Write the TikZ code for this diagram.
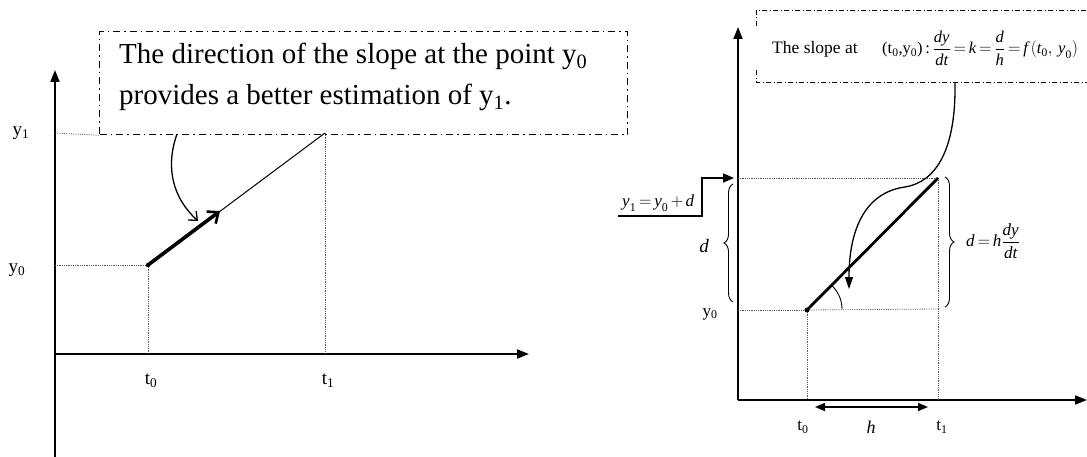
\documentclass[tikz,border=0pt]{standalone}
\usepackage{amsmath}
\usepackage{fontspec}
\setmainfont{Liberation Serif}
\usetikzlibrary{arrows.meta,decorations.pathreplacing,calc}
\newcommand{\ii}[1]{\textit{#1}}
\thickmuskip=3mu
\medmuskip=2.5mu
\begin{document}
\begin{tikzpicture}[x=1pt,y=-1pt,
  axis/.style={line width=1.8pt,-{Triangle[length=12pt,width=9pt]}},
  guide/.style={densely dotted,line width=0.8pt,black!65},
  callout/.style={draw,line width=1.3pt,dash pattern=on 7pt off 4pt on 1.5pt off 4pt,inner sep=0pt},
  calloutR/.style={line width=0.9pt,dash pattern=on 5pt off 2.5pt on 1pt off 2.5pt},
  lblL/.style={inner sep=0pt,font=\fontsize{19}{22}\selectfont},
  lblR/.style={inner sep=0pt,font=\fontsize{17}{20}\selectfont},
  bigtext/.style={inner sep=0pt,anchor=base west,font=\fontsize{29}{34}\selectfont},
  brc/.style={decorate,decoration={brace,amplitude=9pt},line width=0.9pt},
  curvearrow/.style={line width=1.3pt},
]
\useasboundingbox (0,0) rectangle (1087,457);

% ---------------- left diagram ----------------
\coordinate (OL) at (55,354);
\coordinate (YLtop) at (55,70);
\coordinate (YLbot) at (55,457);
\coordinate (XLend) at (529,354);
\coordinate (P0) at (148,265);
\coordinate (P1) at (325,133);
\coordinate (Q) at (220,211);
\coordinate (Y1L) at (55,133);
\coordinate (Y0L) at (55,265);
\coordinate (T0L) at (148,354);
\coordinate (T1L) at (325,354);

\node[callout,anchor=north west,minimum width=528pt,minimum height=103pt] (boxL) at (99,31) {};
\node[bigtext] (txtA) at (119,64) {The direction of the slope at the point y\textsubscript{0}};
\node[bigtext] (txtB) at (119,105) {provides a better estimation of y\textsubscript{1}.};

\draw[axis] (YLbot) -- (YLtop);
\draw[axis] (OL) -- (XLend);
\draw[guide] (Y1L) -- (boxL.south west);
\draw[guide] (Y0L) -- (P0);
\draw[guide] (P0) -- (T0L);
\draw[guide] (P1) -- (T1L);
\draw[line width=1pt] (P0) -- (P1);
\draw[line width=3.6pt,-{Straight Barb[length=9pt,width=15pt,line width=2.6pt]}] (P0) -- (Q);
\fill (P0) circle (2.2pt);
\coordinate (cL) at (177,134);
\coordinate (cLend) at (198,221);
\draw[curvearrow,-{Straight Barb[length=7pt,width=12pt,line width=1.3pt]}] (cL) .. controls (165,168) and (173,198) .. (cLend);

\node[lblL] (y1L) at (21,133) {y\textsubscript{1}};
\node[lblL] (y0L) at (17,270) {y\textsubscript{0}};
\node[lblL] (t0L) at (151,381) {t\textsubscript{0}};
\node[lblL] (t1L) at (328,381) {t\textsubscript{1}};

% ---------------- right diagram ----------------
\coordinate (OR) at (738,400);
\coordinate (YRtop) at (738,27);
\coordinate (XRend) at (1087,400);
\coordinate (R0) at (807,310);
\coordinate (R1) at (938,178);
\coordinate (Y1R) at (738,178);
\coordinate (Y0R) at (738,310);
\coordinate (T0R) at (807,400);
\coordinate (T1R) at (938,400);
\coordinate (B1R) at (938,309);

\node[inner sep=0pt,anchor=north west,minimum width=345pt,minimum height=72pt] (boxR) at (756,10) {};
\draw[calloutR] ([yshift=-16pt]boxR.north west) -- (boxR.north west) -- (boxR.north east);
\draw[calloutR] ([yshift=12pt]boxR.south west) -- (boxR.south west) -- (boxR.south east);
\node[inner sep=0pt,anchor=base west,font=\fontsize{17.5}{21}\selectfont] (slopetxt) at (772,54) {The slope at};
\node[inner sep=0pt,anchor=base west,font=\fontsize{16.5}{21}\selectfont] (slopeeq) at (882,54)
  {(t\textsubscript{0},y\textsubscript{0})\,:\,$\displaystyle\frac{\ii{dy}}{\ii{dt}}=\ii{k}=\frac{\ii{d}}{\ii{h}}=\ii{f}\,(\ii{t}_{\mathrm{0}},\,\ii{y}_{\mathrm{0}})$};

\draw[axis] (OR) -- (YRtop);
\draw[axis] (OR) -- (XRend);
\draw[guide] (Y1R) -- (R1);
\draw[guide] (Y0R) -- (R0);
\draw[guide] (R0) -- (B1R);
\draw[guide] (R0) -- (T0R);
\draw[guide] (R1) -- (T1R);
\draw[line width=2.8pt] (R0) -- (R1);
\fill (R0) circle (2.5pt);
\draw[line width=0.9pt] (842,309) .. controls (842,300) and (838.3,291.9) .. (831.7,285.3);

\coordinate (cR) at (955,83);
\coordinate (cRend) at (849,289);
\draw[curvearrow,-{Triangle[length=12pt,width=8pt]}] (cR) .. controls (956,150) and (936,182) .. (905,187)
  .. controls (868,192) and (849,225) .. (cRend);

\draw[brc] (733,302) -- (733,184);
\draw[brc] (945,177) -- (945,307);
\node[lblR,font=\fontsize{19}{22}\selectfont\itshape] (dL) at (704,246) {d};
\node[lblR,anchor=west,font=\fontsize{17}{21}\selectfont] (dR) at (966,241) {$\ii{d}=\ii{h}\displaystyle\frac{\ii{dy}}{\ii{dt}}$};

\node[lblR,anchor=base west,font=\fontsize{17}{21}\selectfont] (y1eq) at (622,207) {$\ii{y}_{\mathrm{1}}=\ii{y}_{\mathrm{0}}+\ii{d}$};
\coordinate (u0) at (618,216);
\coordinate (u1) at (702,216);
\draw[line width=1.5pt,-{Triangle[length=11pt,width=9pt]}] (u0) -- (u1) |- ([xshift=-4pt]Y1R);

\node[lblR] (y0R) at (710,314) {y\textsubscript{0}};
\node[lblR] (t0R) at (803,427) {t\textsubscript{0}};
\node[lblR] (t1R) at (942,427) {t\textsubscript{1}};
\node[lblR,font=\fontsize{18}{21}\selectfont\itshape] (hR) at (871,427) {h};
\coordinate (hA) at (815,407);
\coordinate (hB) at (928,407);
\draw[line width=1.6pt,{Triangle[length=10pt,width=8pt]}-{Triangle[length=10pt,width=8pt]}] (hA) -- (hB);
\end{tikzpicture}
\end{document}
